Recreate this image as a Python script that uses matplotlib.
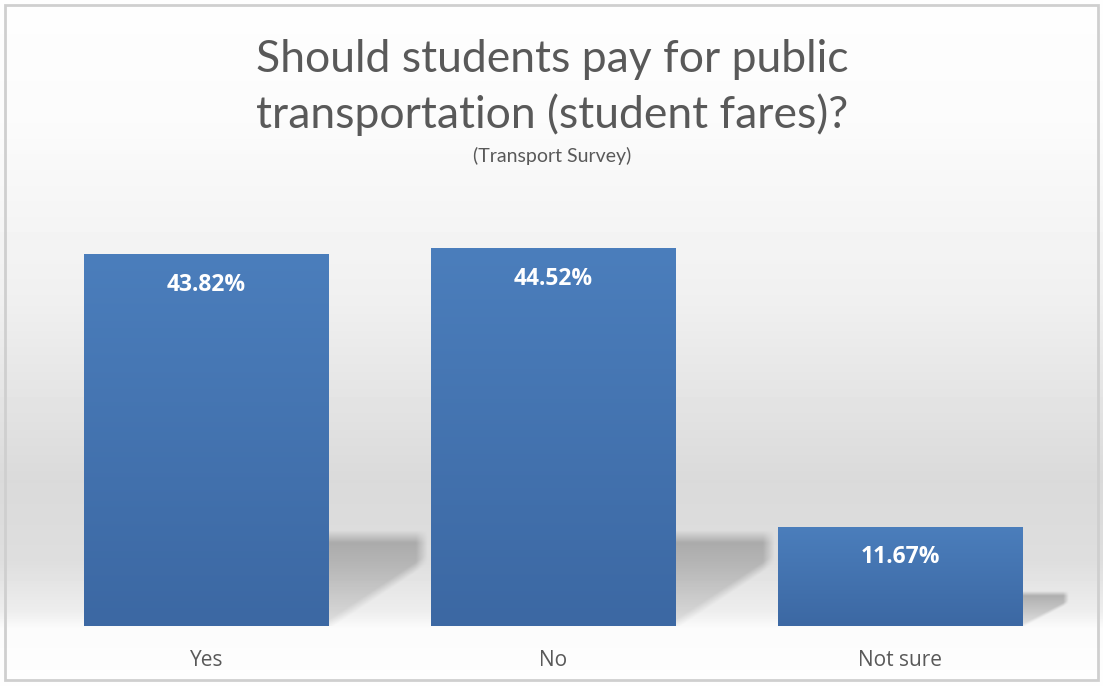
import numpy as np
import matplotlib.pyplot as plt
from matplotlib.patches import Rectangle
from matplotlib.colors import LinearSegmentedColormap

categories = ["Yes", "No", "Not sure"]
shares = [43.82, 44.52, 11.67]
value_labels = ["43.82%", "44.52%", "11.67%"]
title_lines = ["Should students pay for public", "transportation (student fares)?"]
subtitle = "(Transport Survey)"

W, H = 1103, 686
fig = plt.figure(figsize=(W / 100, H / 100), dpi=100)
fig.patch.set_facecolor("white")

# background: vertical grey gradient, white floor under the baseline
bg = fig.add_axes([0, 0, 1, 1], zorder=0)
bg.set_xlim(0, W)
bg.set_ylim(H, 0)
bg.axis("off")
stops_y = [0, 120, 300, 480, 560, 610, 628, 686]
stops_v = [0.995, 0.985, 0.94, 0.855, 0.87, 0.93, 0.985, 0.995]
col = np.interp(np.arange(H), stops_y, stops_v)
img = np.repeat(col[:, None], 2, axis=1)
bg.imshow(img, cmap="gray", vmin=0, vmax=1, extent=[0, W, H, 0], aspect="auto")
bg.add_patch(Rectangle((5, 5), W - 10, H - 11, fill=False, edgecolor="#cfcfcf", lw=2))

ax = fig.add_axes([33 / W, 60 / H, 1041 / W, 424.5 / H], zorder=1)
ax.patch.set_alpha(0)
x = np.arange(len(categories))
width = 0.706
bars = ax.bar(x, shares, width=width, color="#4677b5", zorder=3)

blue = LinearSegmentedColormap.from_list("blue", ["#3c68a3", "#4b7ebc"])
grad = np.linspace(0, 1, 256)[:, None]

# soft shadow mask (u across the gap, v up in units of shadow height)
u = np.linspace(0, 1, 120)[None, :]
v = np.linspace(0, 1.15, 160)[:, None]
prof = np.where(v <= 1, 0.35 + 0.65 * v ** 1.2, np.clip(1 - (v - 1) / 0.15, 0, 1))
low = 0.02 + 0.78 * u
edge = np.clip((v - low) / 0.12 + 0.5, 0, 1)
right = np.clip((1 - u) / 0.12, 0, 1)
alpha = 0.62 * prof * edge * right
shadow_rgba = np.zeros((160, 120, 4))
shadow_rgba[..., :3] = 0.55
shadow_rgba[..., 3] = alpha

for b, h in zip(bars, shares):
    x0 = b.get_x()
    xr = x0 + b.get_width()
    im = ax.imshow(grad, cmap=blue, vmin=0, vmax=1, origin="lower", aspect="auto",
                   extent=[x0, xr, 0, h], zorder=4)
    im.set_clip_path(b)
    st = min(0.3 * h, 9.8)
    d = (1 - width) * (0.97 if h > 20 else 0.45)
    ax.imshow(shadow_rgba, origin="lower", aspect="auto",
              extent=[xr, xr + d, 0, st * 1.15], zorder=2, interpolation="bilinear")

for xi, h, lab in zip(x, shares, value_labels):
    ax.annotate(lab, (xi, h), xytext=(0, -22), textcoords="offset points",
                ha="center", va="center", color="white", fontsize=16.5,
                fontweight="bold", family="Open Sans", zorder=5)

ax.set_xlim(-0.5, 2.5)
ax.set_ylim(0, 50)
ax.set_xticks(x)
ax.set_xticklabels(categories, fontsize=15, color="#595959", family="Open Sans")
ax.tick_params(axis="x", length=0, pad=17)
ax.set_yticks([])
for s in ax.spines.values():
    s.set_visible(False)

fig.text(0.501, 1 - 72 / H, title_lines[0], ha="center", va="baseline",
         fontsize=32, color="#595959", family="Lato")
fig.text(0.501, 1 - 128 / H, title_lines[1], ha="center", va="baseline",
         fontsize=32, color="#595959", family="Lato")
fig.text(0.501, 1 - 162 / H, subtitle, ha="center", va="baseline",
         fontsize=14, color="#595959", family="Lato")

fig.savefig("out.png", dpi=100)
